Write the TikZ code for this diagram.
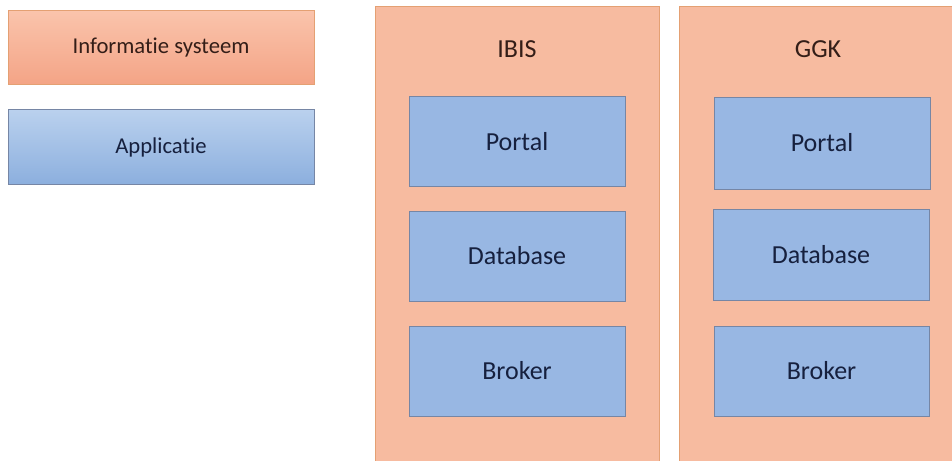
\documentclass[tikz,border=0pt]{standalone}
\usepackage{fontspec}
\setmainfont{Carlito}[Ligatures={NoCommon}]
\definecolor{orfill}{RGB}{247,187,160}
\definecolor{ordraw}{RGB}{228,160,115}
\definecolor{blfill}{RGB}{152,183,227}
\definecolor{bldraw}{RGB}{118,134,165}
\definecolor{ortop}{RGB}{250,196,172}
\definecolor{orbot}{RGB}{244,164,134}
\definecolor{bltop}{RGB}{186,209,238}
\definecolor{blbot}{RGB}{140,175,222}
\definecolor{txtbrown}{RGB}{52,30,24}
\definecolor{txtnavy}{RGB}{22,32,62}
\tikzset{
  legendbox/.style={draw, line width=0.6pt, minimum width=229.5pt, minimum height=56pt, inner sep=0pt,
     font=\fontsize{17}{20}\selectfont},
  legor/.style={legendbox, draw=ordraw, top color=ortop, bottom color=orbot, text=txtbrown},
  legbl/.style={legendbox, draw=bldraw, top color=bltop, bottom color=blbot, text=txtnavy},
  container/.style={draw=ordraw, fill=orfill, line width=0.6pt, inner sep=0pt},
  title/.style={font=\fontsize{19.5}{22}\selectfont, text=txtbrown, inner sep=0pt},
  appbox/.style={draw=bldraw, fill=blfill, line width=0.6pt, minimum width=162pt, minimum height=68pt,
     inner sep=0pt, font=\fontsize{19.5}{22}\selectfont, text=txtnavy},
}
\begin{document}
\begin{tikzpicture}[x=0.75pt, y=-0.75pt]
\useasboundingbox (0,0) rectangle (952,460);
\clip (0,0) rectangle (952,460);
\fill[white] (0,0) rectangle (952,460);
% legend
\node[legor] (leginfo) at (161,47.5) {Informatie systeem};
\node[legbl] (legapp) at (161,147) {Applicatie};
% containers
\node[container, minimum width=213pt, minimum height=348pt, anchor=north west] (ibis) at (375,6) {};
\node[container, minimum width=211pt, minimum height=348pt, anchor=north west] (ggk) at (679,6) {};
\node[title] (ibisT) at (517,49) {IBIS};
\node[title] (ggkT) at (818,49) {GGK};
% IBIS applications
\node[appbox] (ibisPortal) at (517,141.5) {Portal};
\node[appbox, minimum height=67.5pt] (ibisDb) at (517,256) {Database};
\node[appbox, minimum height=67.5pt] (ibisBroker) at (517,371) {Broker};
% GGK applications
\node[appbox, minimum height=69pt] (ggkPortal) at (822,143) {Portal};
\node[appbox, minimum height=68.25pt] (ggkDb) at (821,254.5) {Database};
\node[appbox, minimum width=161.25pt, minimum height=67.5pt] (ggkBroker) at (821.5,371) {Broker};
\end{tikzpicture}
\end{document}
